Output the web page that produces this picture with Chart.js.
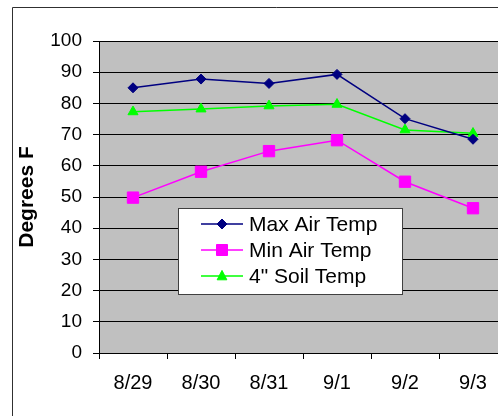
<!DOCTYPE html>
<html>
<head>
<meta charset="utf-8">
<script src="https://cdn.jsdelivr.net/npm/chart.js@4.4.1/dist/chart.umd.min.js"></script>
<style>
  html, body { margin: 0; padding: 0; background: #fff; overflow: hidden; }
  #wrap { width: 498px; height: 416px; overflow: hidden; position: relative; }
  canvas { display: block; }
</style>
</head>
<body>
<div id="wrap"><canvas id="c" width="540" height="416" style="width:540px;height:416px"></canvas></div>
<script>
const categories = ['8/29', '8/30', '8/31', '9/1', '9/2', '9/3'];
const maxAirTemp = [85, 87.8, 86.4, 89.3, 75.1, 68.5];
const minAirTemp = [49.8, 58.1, 64.7, 68.2, 54.9, 46.4];
const soilTemp = [77.3, 78.2, 79.2, 79.7, 71.5, 70.4];
const seriesLabels = ['Max Air Temp', 'Min Air Temp', '4" Soil Temp'];
const yTitle = 'Degrees F';

const FONT = "'Liberation Sans', Arial, sans-serif";

const plotBg = {
  id: 'plotBg',
  beforeDraw(chart) {
    const {ctx, chartArea: a} = chart;
    ctx.save();
    ctx.fillStyle = '#c0c0c0';
    ctx.fillRect(a.left, a.top, a.right - a.left, a.bottom - a.top);
    ctx.restore();
  },
  afterDraw(chart) {
    const ctx = chart.ctx;
    ctx.save();
    ctx.strokeStyle = '#303030';
    ctx.lineWidth = 1;
    ctx.beginPath();
    ctx.moveTo(12.5, 430);
    ctx.lineTo(12.5, 7.5);
    ctx.lineTo(560, 7.5);
    ctx.stroke();
    ctx.restore();
  }
};

function marker(ctx, style, x, y, color) {
  ctx.fillStyle = color;
  ctx.strokeStyle = color;
  ctx.lineWidth = 1;
  ctx.beginPath();
  if (style === 'rectRot') {
    const r = 5;
    ctx.moveTo(x - r, y); ctx.lineTo(x, y - r); ctx.lineTo(x + r, y); ctx.lineTo(x, y + r);
  } else if (style === 'rect') {
    const s = 5.5;
    ctx.rect(x - s, y - s, 2 * s, 2 * s);
  } else {
    const r = 5.6;
    ctx.moveTo(x, y - r);
    ctx.lineTo(x + r * 0.866, y + r * 0.5 + 1);
    ctx.lineTo(x - r * 0.866, y + r * 0.5 + 1);
  }
  ctx.closePath();
  ctx.fill();
  ctx.stroke();
}

const legendBox = {
  id: 'legendBox',
  afterDatasetsDraw(chart) {
    const ctx = chart.ctx;
    const bx = 178.5, by = 208.5, bw = 224, bh = 86;
    ctx.save();
    ctx.fillStyle = '#ffffff';
    ctx.fillRect(bx, by, bw, bh);
    ctx.strokeStyle = '#404040';
    ctx.lineWidth = 1;
    ctx.strokeRect(bx, by, bw, bh);
    ctx.font = '21px ' + FONT;
    ctx.textBaseline = 'middle';
    ctx.textAlign = 'left';
    chart.data.datasets.forEach((ds, i) => {
      const y = 224 + i * 26;
      ctx.strokeStyle = ds.borderColor;
      ctx.lineWidth = 1.5;
      ctx.beginPath();
      ctx.moveTo(201, y);
      ctx.lineTo(243, y);
      ctx.stroke();
      marker(ctx, ds.pointStyle, 222, y, ds.borderColor);
      ctx.fillStyle = '#000';
      ctx.fillText(ds.label, 249, y + 1);
    });
    ctx.restore();
  }
};

new Chart(document.getElementById('c'), {
  type: 'line',
  data: {
    labels: categories,
    datasets: [
      { label: seriesLabels[0], data: maxAirTemp, borderColor: '#000080', backgroundColor: '#000080',
        pointStyle: 'rectRot', pointRadius: 5, borderWidth: 1.5, pointBorderWidth: 1 },
      { label: seriesLabels[1], data: minAirTemp, borderColor: '#ff00ff', backgroundColor: '#ff00ff',
        pointStyle: 'rect', pointRadius: 8, borderWidth: 1.5, pointBorderWidth: 1 },
      { label: seriesLabels[2], data: soilTemp, borderColor: '#00ff00', backgroundColor: '#00ff00',
        pointStyle: 'triangle', pointRadius: 5.8, borderWidth: 1.5, pointBorderWidth: 1 }
    ]
  },
  options: {
    responsive: false,
    animation: false,
    devicePixelRatio: 1,
    layout: { padding: { top: 41, left: 0, right: 33, bottom: 0 } },
    plugins: { legend: { display: false }, tooltip: { enabled: false } },
    elements: { line: { tension: 0 } },
    scales: {
      x: {
        offset: true,
        grid: { display: true, drawOnChartArea: false, drawTicks: true, tickLength: 6, color: '#000', offset: true },
        border: { display: true, color: '#000', width: 1 },
        ticks: { color: '#000', font: { family: FONT, size: 20 }, padding: 12, maxRotation: 0, autoSkip: false },
        afterFit(s) { s.height = 63; }
      },
      y: {
        min: 0, max: 100,
        grid: { color: '#000', lineWidth: 1, tickLength: 6, drawTicks: true },
        border: { display: true, color: '#000', width: 1 },
        ticks: { stepSize: 10, color: '#000', font: { family: FONT, size: 19 }, padding: 11 },
        title: { display: true, text: yTitle, color: '#000', font: { family: FONT, size: 21, weight: 'bold' }, padding: { top: 15, bottom: 0 } },
        afterFit(s) { s.width = 99; }
      }
    }
  },
  plugins: [plotBg, legendBox]
});
</script>
</body>
</html>
